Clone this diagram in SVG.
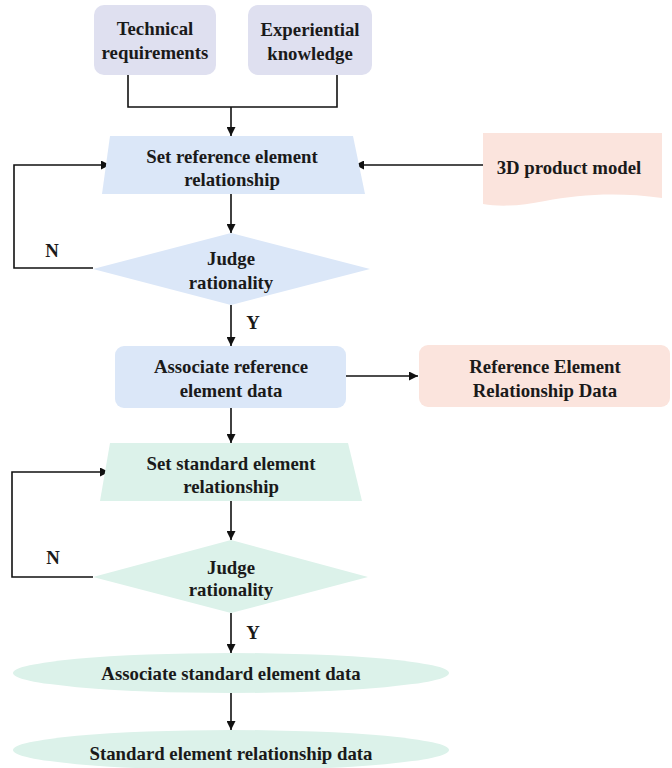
<svg xmlns="http://www.w3.org/2000/svg" width="672" height="768" viewBox="0 0 672 768">
<defs>
<marker id="ah" viewBox="0 0 10 10" refX="10" refY="5" markerWidth="9" markerHeight="9" markerUnits="userSpaceOnUse" orient="auto">
<path d="M0,0 L10,5 L0,10 z" fill="#111"/>
</marker>
<style>
text{font-weight:bold;font-size:18.8px;fill:#1a1a1a;text-anchor:middle;dominant-baseline:central}
.c{fill:none;stroke:#111;stroke-width:1.6}
.a{marker-end:url(#ah)}
.lav{fill:#dfe0f0}
.blue{fill:#dbe7f8}
.pink{fill:#fbe4dd}
.green{fill:#dcf2ea}
</style>
</defs>
<rect width="672" height="768" fill="#fff"/>
<g font-family="Liberation Serif, Times New Roman, DejaVu Serif, serif">
<g id="connectors">
<polyline class="c" points="128,75 128,107 337,107 337,75"/>
<line class="c a" x1="231" y1="107" x2="231" y2="136"/>
<line class="c a" x1="483" y1="165" x2="355" y2="165"/>
<line class="c a" x1="231" y1="194" x2="231" y2="233"/>
<polyline class="c a" points="93,268 14,268 14,165 110,165"/>
<line class="c a" x1="231" y1="305" x2="231" y2="346"/>
<line class="c a" x1="346" y1="376" x2="418" y2="376"/>
<line class="c a" x1="231" y1="408" x2="231" y2="443"/>
<line class="c a" x1="231" y1="501" x2="231" y2="540"/>
<polyline class="c a" points="93,577 12,577 12,472 109,472"/>
<line class="c a" x1="231" y1="613" x2="231" y2="653"/>
<line class="c a" x1="231" y1="693" x2="231" y2="730"/>
<text x="52" y="250">N</text>
<text x="253" y="322">Y</text>
<text x="53" y="557">N</text>
<text x="253" y="632">Y</text>
</g>
<g id="tech">
<rect class="lav" x="94" y="5" width="122" height="70" rx="10"/>
<text x="155" y="28">Technical</text>
<text x="155" y="52">requirements</text>
</g>
<g id="exp">
<rect class="lav" x="248" y="5" width="124" height="70" rx="10"/>
<text x="310" y="29">Experiential</text>
<text x="310" y="53">knowledge</text>
</g>
<g id="setref">
<polygon class="blue" points="110,136 353,136 365,194 102,194"/>
<text x="232" y="156">Set reference element</text>
<text x="232" y="179">relationship</text>
</g>
<g id="model">
<path class="pink" d="M483,133 L662,133 L662,198 C620,192 580,194 545,201 C520,206 500,207 483,204 Z"/>
<text x="569" y="167">3D product model</text>
</g>
<g id="judge1">
<polygon class="blue" points="231,233 370,269 231,305 93,269"/>
<text x="231" y="258">Judge</text>
<text x="231" y="282">rationality</text>
</g>
<g id="assocref">
<rect class="blue" x="115" y="346" width="231" height="62" rx="9"/>
<text x="231" y="366">Associate reference</text>
<text x="231" y="390">element data</text>
</g>
<g id="refdata">
<rect class="pink" x="419" y="345" width="251" height="62" rx="9"/>
<text x="545" y="366">Reference Element</text>
<text x="545" y="390">Relationship Data</text>
</g>
<g id="setstd">
<polygon class="green" points="110,443 348,443 362,501 100,501"/>
<text x="231" y="463">Set standard element</text>
<text x="231" y="486">relationship</text>
</g>
<g id="judge2">
<polygon class="green" points="231,540 368,577 231,613 93,577"/>
<text x="231" y="567">Judge</text>
<text x="231" y="589">rationality</text>
</g>
<g id="assocstd">
<ellipse class="green" cx="231" cy="673" rx="218" ry="20"/>
<text x="231" y="673">Associate standard element data</text>
</g>
<g id="stddata">
<ellipse class="green" cx="231" cy="750" rx="218" ry="20"/>
<text x="231" y="753">Standard element relationship data</text>
</g>
</g>
</svg>
